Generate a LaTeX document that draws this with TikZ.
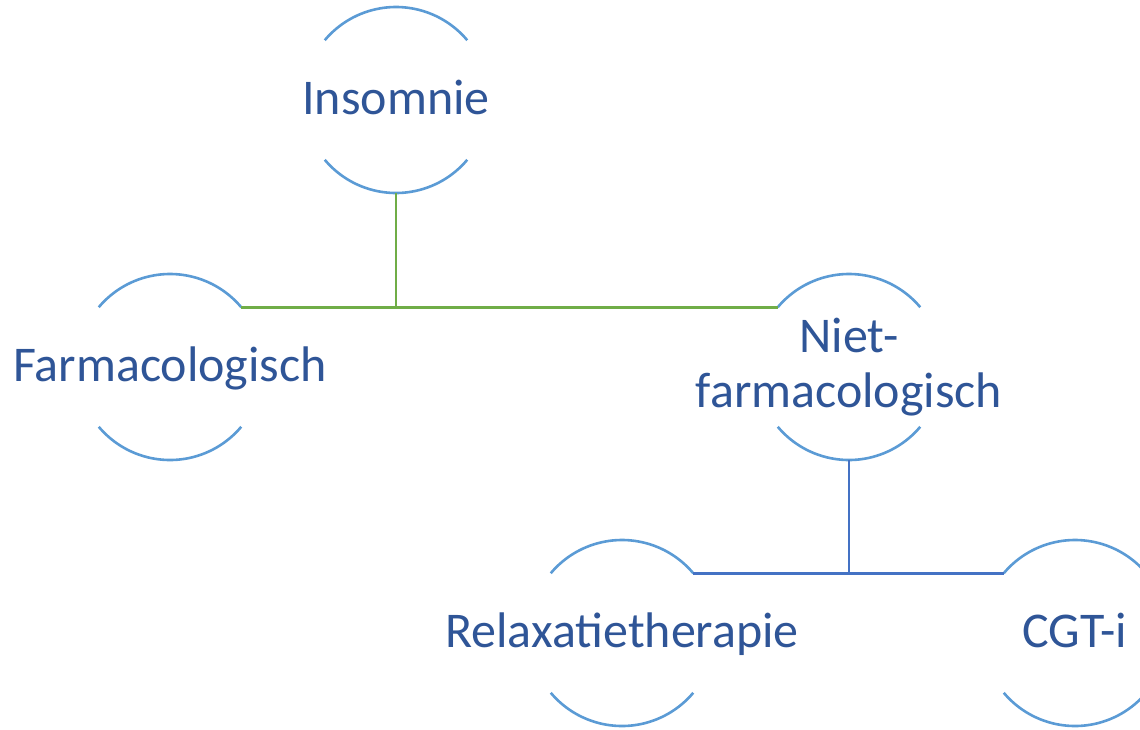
\documentclass[tikz,border=0pt]{standalone}
\usepackage{fontspec}
\setmainfont{Carlito}
\usetikzlibrary{positioning}
\definecolor{txtblue}{HTML}{2F5597}
\definecolor{rimblue}{HTML}{5B9BD5}
\definecolor{lnkgreen}{HTML}{70AD47}
\definecolor{lnkblue}{HTML}{4472C4}

\begin{document}
\begin{tikzpicture}[on grid, line width=1.3pt]
  \tikzstyle{bubble}=[circle, minimum size=93pt, inner sep=0pt, outer sep=0pt]
  \tikzstyle{lbl}=[text=txtblue, font=\fontsize{25}{27.5}\selectfont, inner sep=0pt]
  \tikzstyle{oneline}=[text height=18pt, text depth=4pt]
  \tikzstyle{rim}=[draw=rimblue, line width=1.3pt]
  \tikzstyle{linkgreen}=[draw=lnkgreen, line width=1.4pt]
  \tikzstyle{linkblue}=[draw=lnkblue, line width=1.4pt]

  \useasboundingbox (-198pt,50pt) rectangle (372pt,-314.5pt);

  \node[bubble, label={[lbl,oneline]center:Insomnie}] (ins) {};
  \node[bubble, label={[lbl,oneline]center:Farmacologisch}] (farm) [below left=133.5pt and 113pt of ins] {};
  \node[bubble, label={[lbl,align=center]center:Niet-\\farmacologisch}] (niet) [below right=133.5pt and 226.5pt of ins] {};
  \node[bubble, label={[lbl,oneline]center:Relaxatietherapie}] (relax) [below left=133pt and 113.5pt of niet] {};
  \node[bubble, label={[lbl,oneline]center:CGT-i}] (cgt) [below right=133pt and 113pt of niet] {};

  % open circles
  \foreach \n in {ins,farm,niet,relax,cgt} {
    \draw[rim] (\n.40) arc[start angle=40, end angle=140, radius=46.5pt];
    \draw[rim] (\n.220) arc[start angle=220, end angle=320, radius=46.5pt];
  }

  \draw[linkgreen] (ins.south) -- (ins.south |- farm.40);
  \draw[linkgreen] (farm.40) -- (niet.140);
  \draw[linkblue] (niet.south) -- (niet.south |- relax.40);
  \draw[linkblue] (relax.40) -- (cgt.140);
\end{tikzpicture}
\end{document}
